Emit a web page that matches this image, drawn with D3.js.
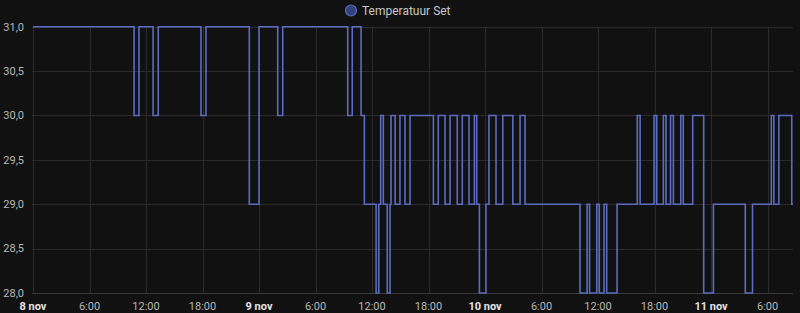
<!DOCTYPE html>
<html>
<head>
<meta charset="utf-8">
<script src="https://cdn.jsdelivr.net/npm/d3@7"></script>
<style>
  html, body { margin: 0; padding: 0; background: #111111; }
  svg { display: block; font-family: Roboto, "Noto Sans", sans-serif; }
</style>
</head>
<body>
<svg id="chart" width="800" height="313"></svg>
<script>
// ---- data ----
const seriesName = "Temperatuur Set";
const changeTimes = [
  "2023-11-08T00:00","2023-11-08T10:44","2023-11-08T11:15","2023-11-08T12:45","2023-11-08T13:18",
  "2023-11-08T17:50","2023-11-08T18:22","2023-11-08T22:58","2023-11-09T00:00","2023-11-09T01:59",
  "2023-11-09T02:31","2023-11-09T09:25","2023-11-09T09:54","2023-11-09T10:50","2023-11-09T11:11",
  "2023-11-09T12:26","2023-11-09T12:43","2023-11-09T12:55","2023-11-09T13:12","2023-11-09T13:37",
  "2023-11-09T13:55","2023-11-09T14:01","2023-11-09T14:27","2023-11-09T14:58","2023-11-09T15:30",
  "2023-11-09T16:02","2023-11-09T18:31","2023-11-09T19:02","2023-11-09T19:45","2023-11-09T20:17",
  "2023-11-09T21:03","2023-11-09T21:35","2023-11-09T22:18","2023-11-09T22:52","2023-11-09T23:07",
  "2023-11-09T23:24","2023-11-10T00:06","2023-11-10T00:25","2023-11-10T01:10","2023-11-10T01:53",
  "2023-11-10T02:57","2023-11-10T03:43","2023-11-10T04:15","2023-11-10T10:05","2023-11-10T10:50",
  "2023-11-10T11:06","2023-11-10T11:52","2023-11-10T12:08","2023-11-10T12:38","2023-11-10T12:55",
  "2023-11-10T14:01","2023-11-10T16:10","2023-11-10T16:28","2023-11-10T17:57","2023-11-10T18:14",
  "2023-11-10T18:56","2023-11-10T19:13","2023-11-10T19:42","2023-11-10T20:00","2023-11-10T20:47",
  "2023-11-10T21:03","2023-11-10T22:03","2023-11-10T23:13","2023-11-11T00:15","2023-11-11T03:38",
  "2023-11-11T04:24","2023-11-11T06:24","2023-11-11T06:40","2023-11-11T07:12","2023-11-11T08:34",
  "2023-11-11T08:42"
];
const setValues = [
  31,30,31,30,31,
  30,31,29,31,30,
  31,30,31,30,29,
  28,29,30,29,28,
  29,30,29,30,29,
  30,29,30,29,30,
  29,30,29,30,29,
  28,29,30,29,30,
  29,30,29,28,29,
  28,29,28,29,28,
  29,30,29,30,29,
  30,29,30,29,30,
  29,30,28,29,28,
  29,30,29,30,29,
  29
];
const xDomain = ["2023-11-08T00:00", "2023-11-11T08:42"];
const yTicks = [28, 28.5, 29, 29.5, 30, 30.5, 31];
const monthNames = ["jan","feb","mrt","apr","mei","jun","jul","aug","sep","okt","nov","dec"];

// ---- drawing ----
(function () {
const parse = d3.timeParse("%Y-%m-%dT%H:%M");
const data = changeTimes.map((t, i) => ({ t: parse(t), v: setValues[i] }));

const svg = d3.select("#chart");
const pLeft = 33, pRight = 793, pTop = 26.7, pBottom = 293;

const x = d3.scaleTime().domain(xDomain.map(parse)).range([pLeft, pRight]);
const y = d3.scaleLinear().domain([28, 31]).range([pBottom, pTop]);

const gridColor = "#2b2b2b";
const fmtY = d3.formatLocale({ decimal: ",", thousands: ".", grouping: [3], currency: ["€", ""] }).format(".1f");

// horizontal grid
svg.append("g").selectAll("line").data(yTicks).join("line")
  .attr("x1", pLeft - 1).attr("x2", pRight)
  .attr("y1", d => Math.round(y(d)) + 0.5).attr("y2", d => Math.round(y(d)) + 0.5)
  .attr("stroke", d => d === 28 ? "#3a3a3a" : gridColor).attr("stroke-width", 1);

// vertical grid
const xTicks = x.ticks(d3.timeHour.every(6));
svg.append("g").selectAll("line").data(xTicks).join("line")
  .attr("x1", d => Math.round(x(d)) + 0.5).attr("x2", d => Math.round(x(d)) + 0.5)
  .attr("y1", pTop).attr("y2", pBottom)
  .attr("stroke", gridColor).attr("stroke-width", 1);

// y labels
svg.append("g").selectAll("text").data(yTicks).join("text")
  .attr("x", 24).attr("y", d => y(d)).attr("dy", "0.35em")
  .attr("text-anchor", "end").attr("font-size", 11).attr("fill", "#b8b8b8")
  .text(d => fmtY(d));

// x labels
svg.append("g").selectAll("text").data(xTicks).join("text")
  .attr("x", d => x(d)).attr("y", 306).attr("dy", "0.35em")
  .attr("text-anchor", "middle").attr("font-size", 11)
  .attr("font-weight", d => d.getHours() === 0 ? "bold" : "normal")
  .attr("fill", d => d.getHours() === 0 ? "#e4e4e4" : "#b8b8b8")
  .text(d => d.getHours() === 0 ? `${d.getDate()} ${monthNames[d.getMonth()]}` : `${d.getHours()}:00`);

// step line
const line = d3.line().x(d => x(d.t)).y(d => y(d.v)).curve(d3.curveStepAfter);
svg.append("path").datum(data)
  .attr("d", line).attr("fill", "none")
  .attr("stroke", "#5b6cc0").attr("stroke-width", 1.6);

// legend
const lg = svg.append("g");
lg.append("circle").attr("cx", 351).attr("cy", 10.5).attr("r", 5.5)
  .attr("fill", "#34407a").attr("stroke", "#5b6cc0").attr("stroke-width", 1.2);
lg.append("text").attr("x", 362).attr("y", 10.5).attr("dy", "0.35em")
  .attr("font-size", 12).attr("fill", "#c8c8c8").text(seriesName);
})();
</script>
</body>
</html>
